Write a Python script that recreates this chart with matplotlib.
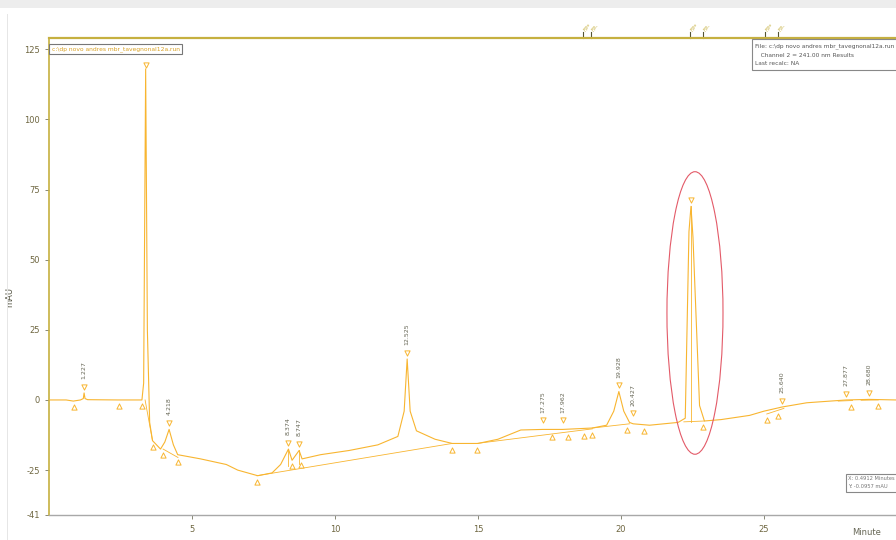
import numpy as np
import matplotlib.pyplot as plt
from matplotlib.patches import Ellipse, Rectangle

# chromatogram trace (minutes, mAU)
t_trace = [0.0, 0.6, 0.85, 1.1, 1.2, 1.227, 1.26, 1.35, 2.4, 3.25, 3.31, 3.38, 3.44, 3.52, 3.62,
           3.9, 4.05, 4.2, 4.35, 4.5, 5.3, 6.2, 6.6, 7.3, 7.8, 8.1, 8.374, 8.5, 8.747, 8.85,
           9.5, 10.5, 11.5, 12.2, 12.42, 12.525, 12.63, 12.85, 13.5, 14.1, 15.0, 15.7, 16.5,
           17.275, 17.962, 19.0, 19.5, 19.75, 19.928, 20.1, 20.3, 20.427, 21.0, 22.0, 22.25,
           22.38, 22.45, 22.52, 22.75, 22.92, 23.5, 24.5, 25.0, 25.64, 26.5, 27.877, 28.68, 29.62]
y_trace = [0.0, 0.0, -0.4, 0.0, 0.5, 2.5, 0.5, 0.1, 0.0, 0.0, 6.0, 118.0, 25.0, -8.0, -14.5,
           -17.5, -15.0, -10.5, -16.0, -19.5, -21.0, -23.0, -25.0, -27.0, -26.0, -23.0, -17.5, -21.5, -18.0, -21.0,
           -19.5, -18.0, -16.0, -13.0, -4.0, 14.6, -4.0, -11.0, -14.0, -15.5, -15.5, -14.0, -10.7,
           -10.5, -10.5, -10.0, -9.0, -4.0, 3.0, -4.0, -8.0, -8.5, -9.0, -8.0, -6.5,
           60.0, 69.0, 58.0, -2.0, -7.5, -7.0, -5.5, -4.0, -2.5, -1.0, 0.0, 0.2, 0.0]

# integration baselines (start t, start y, end t, end y)
base_t0 = [3.36, 3.99, 7.27, 14.96, 19.0, 22.2, 25.1, 27.6, 28.4]
base_y0 = [0.0, -17.5, -27.0, -15.5, -10.0, -7.8, -5.0, -0.4, -0.1]
base_t1 = [3.62, 4.51, 14.1, 19.0, 20.3, 22.92, 25.7, 28.1, 29.0]
base_y1 = [-14.5, -20.5, -15.5, -10.3, -8.5, -7.5, -3.0, -0.2, 0.0]

# peak apex markers and labels
apex_t = [1.227, 3.38, 4.2, 8.374, 8.747, 12.525, 17.275, 17.962, 19.928, 20.427, 22.45, 25.64, 27.877, 28.68]
apex_y = [2.5, 117.0, -10.5, -17.5, -18.0, 14.6, -9.5, -9.5, 3.0, -7.0, 69.0, -2.5, 0.0, 0.3]
apex_lbl = ['1.227', '', '4.218', '8.374', '8.747', '12.525', '17.275', '17.962', '19.928', '20.427',
            '', '25.640', '27.877', '28.680']

# peak start/end markers
edge_t = [0.87, 2.45, 3.25, 3.62, 3.99, 4.51, 7.27, 8.5, 8.8, 14.1, 14.96, 17.6, 18.15, 18.7, 19.0,
          20.2, 20.8, 22.87, 25.1, 25.5, 28.04, 29.0]
edge_y = [-0.4, 0.0, 0.0, -14.5, -17.5, -20.0, -27.0, -21.5, -21.0, -15.5, -15.5, -11.0, -11.0, -10.5,
          -10.2, -8.5, -9.0, -7.5, -5.0, -3.5, -0.3, 0.0]

# timed events on top of the plot
event_t = [18.67, 18.95, 22.41, 22.87, 25.03, 25.49]
event_lbl = ['FP*', 'FP-', 'FP*', 'FP-', 'FP*', 'FP-']

yticks = [-41, -25, 0, 25, 50, 75, 100, 125]
xticks = [5, 10, 15, 20, 25]

trace_col = '#F8B530'
gold = '#C6B040'
tick_col = '#6E6640'

fig = plt.figure(figsize=(8.96, 5.40), dpi=100)
fig.patches.append(Rectangle((0, 0.985), 1, 0.015, transform=fig.transFigure,
                             facecolor='#EDEDED', edgecolor='none'))
fig.patches.append(Rectangle((0.0075, 0), 0.0015, 0.975, transform=fig.transFigure,
                             facecolor='#E6E6E6', edgecolor='none'))

ax = fig.add_axes([49 / 896, 25 / 540, 847 / 896, 477 / 540])
ax.set_xlim(0, 29.62)
ax.set_ylim(-41, 129)

ax.plot(t_trace, y_trace, color=trace_col, lw=0.8, zorder=3)
for a, b, c, d in zip(base_t0, base_y0, base_t1, base_y1):
    ax.plot([a, c], [b, d], color=trace_col, lw=0.6, zorder=2)
# drop lines
for tt, yy, yb in [(8.374, -17.5, -23.5), (8.747, -18.0, -23.0), (22.45, 69.0, -7.7)]:
    ax.plot([tt, tt], [yy, yb], color=trace_col, lw=0.6, zorder=2)

ax.scatter(apex_t, np.array(apex_y) + 2.2, marker='v', s=14, facecolor='white',
           edgecolor=trace_col, lw=0.7, zorder=4)
ax.scatter(edge_t, np.array(edge_y) - 2.2, marker='^', s=14, facecolor='white',
           edgecolor=trace_col, lw=0.7, zorder=4)
for tt, yy, lb in zip(apex_t, apex_y, apex_lbl):
    if lb:
        ax.text(tt, yy + 5, lb, rotation=90, ha='center', va='bottom', fontsize=4.5,
                color='#666655', zorder=5)

ax.add_patch(Ellipse((22.59, 31), 1.96, 100.7, fill=False, edgecolor='#E35A68', lw=0.8, zorder=6))

# spines and ticks
ax.spines['right'].set_visible(False)
ax.spines['top'].set_color(gold)
ax.spines['top'].set_linewidth(1.6)
ax.spines['left'].set_color(gold)
ax.spines['left'].set_linewidth(1.2)
ax.spines['bottom'].set_color('#A8A8A8')
ax.spines['bottom'].set_linewidth(1.0)
ax.set_yticks(yticks)
ax.set_yticklabels([str(v) for v in yticks])
ax.set_xticks(xticks)
ax.set_xticklabels([str(v) for v in xticks])
ax.tick_params(axis='both', colors='#888877', labelcolor=tick_col, labelsize=6, length=3, width=0.7)
ax.tick_params(axis='x', pad=4)
ax.set_ylabel('mAU', fontsize=6, color='#555544')
ax.yaxis.set_label_coords(-0.041, 0.457)
ax.text(28.1, -45.5, 'Minute', fontsize=6, color='#666655', ha='left', va='top', clip_on=False)

# timed events
for tt, lb in zip(event_t, event_lbl):
    ax.plot([tt, tt], [129, 131], color='#555533', lw=0.8, clip_on=False)
    ax.text(tt, 131, lb, rotation=45, fontsize=4, color=gold, ha='left', va='bottom', clip_on=False)

# info boxes
ax.text(0.09, 125, r'c:\dp novo andres mbr_tavegnonal12a.run', fontsize=4.3, color='#D9A020',
        ha='left', va='center', zorder=7,
        bbox=dict(boxstyle='square,pad=0.35', facecolor='white', edgecolor='#777777', lw=0.8))
ax.text(24.7, 127, 'File: c:\\dp novo andres mbr_tavegnonal12a.run\n'
        '   Channel 2 = 241.00 nm Results\nLast recalc: NA',
        fontsize=4.2, color='#555555', ha='left', va='top', linespacing=1.9, zorder=7,
        bbox=dict(boxstyle='square,pad=0.6', facecolor='white', edgecolor='#888888', lw=0.8))
ax.text(27.95, -29.5, 'X: 0.4912 Minutes\nY: -0.0957 mAU', fontsize=3.7, color='#777777',
        ha='left', va='center', linespacing=1.8, zorder=7,
        bbox=dict(boxstyle='square,pad=0.5', facecolor='white', edgecolor='#888888', lw=0.8))

fig.savefig('out.png', dpi=100)
